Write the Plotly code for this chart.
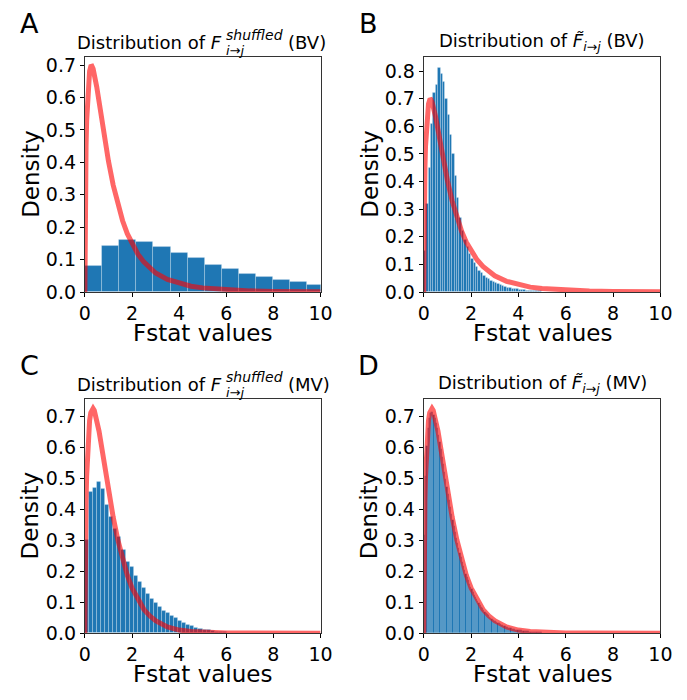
import plotly.graph_objects as go

W, H = 687, 700

# ---------------- data ----------------
# Panel A: histogram of F shuffled (BV)
a_bin_start = 0.0
a_bin_width = 0.726
a_density = [0.080, 0.143, 0.160, 0.155, 0.140, 0.122, 0.104, 0.085, 0.070, 0.057,
             0.047, 0.037, 0.030, 0.023]

# Panel B: histogram of F~ (BV)
b_bin_start = 0.0
b_bin_width = 0.1
b_density = [0.15, 0.32, 0.45, 0.61, 0.72, 0.75, 0.81, 0.79, 0.76, 0.70,
             0.64, 0.57, 0.50, 0.42, 0.34, 0.27, 0.22, 0.19, 0.165, 0.14,
             0.12, 0.105, 0.09, 0.078, 0.068, 0.06, 0.053, 0.047, 0.042, 0.037,
             0.033, 0.029, 0.025, 0.021, 0.018, 0.016, 0.014, 0.012, 0.011, 0.010,
             0.009, 0.008, 0.007, 0.006, 0.005, 0.005, 0.004, 0.004, 0.003, 0.003,
             0.002, 0.002, 0.002, 0.001, 0.001, 0.001]

# Panel C: histogram of F shuffled (MV)
c_bin_start = 0.0
c_bin_width = 0.172
c_density = [0.30, 0.458, 0.47, 0.49, 0.466, 0.415, 0.377, 0.338, 0.31, 0.27,
             0.23, 0.215, 0.185, 0.166, 0.145, 0.128, 0.112, 0.099, 0.086, 0.073,
             0.064, 0.056, 0.05, 0.04, 0.034, 0.027, 0.022, 0.018, 0.014, 0.011,
             0.009, 0.007, 0.005, 0.004, 0.003, 0.002]

# Panel D: histogram of F~ (MV)
d_bin_start = 0.0
d_bin_width = 0.05
d_density = [0.316, 0.507, 0.606, 0.664, 0.697, 0.712, 0.716, 0.714, 0.706, 0.696,
             0.681, 0.663, 0.642, 0.619, 0.595, 0.571, 0.546, 0.522, 0.498, 0.474,
             0.451, 0.429, 0.407, 0.386, 0.365, 0.346, 0.327, 0.309, 0.292, 0.275,
             0.26, 0.245, 0.231, 0.218, 0.205, 0.193, 0.181, 0.171, 0.16, 0.151,
             0.142, 0.133, 0.125, 0.117, 0.11, 0.103, 0.097, 0.091, 0.085, 0.08,
             0.074, 0.07, 0.066, 0.061, 0.058, 0.054, 0.05, 0.047, 0.044, 0.041,
             0.039, 0.036, 0.034, 0.032, 0.029, 0.028, 0.026, 0.024, 0.022, 0.021,
             0.02, 0.018, 0.017, 0.016, 0.015, 0.014, 0.013, 0.012, 0.011, 0.011,
             0.01, 0.009, 0.009, 0.008, 0.007, 0.007, 0.006, 0.006, 0.006, 0.005,
             0.005, 0.005, 0.004, 0.004, 0.004, 0.003, 0.003, 0.003, 0.003, 0.003]

# Theoretical density curves (red)
curve_x = [0, 0.005, 0.01, 0.02, 0.035, 0.05, 0.075, 0.1, 0.15, 0.2, 0.25, 0.3, 0.35,
           0.4, 0.5, 0.6, 0.7, 0.8, 0.9, 1.0, 1.2, 1.4, 1.6, 1.8, 2.0, 2.25, 2.5,
           2.75, 3.0, 3.5, 4.0, 4.5, 5, 6, 7, 8, 9, 10]
curve_bv = [0, 0.156, 0.218, 0.303, 0.389, 0.451, 0.527, 0.580, 0.647, 0.681, 0.695,
            0.696, 0.688, 0.674, 0.634, 0.588, 0.539, 0.491, 0.446, 0.404, 0.330,
            0.269, 0.220, 0.180, 0.148, 0.117, 0.093, 0.074, 0.059, 0.039, 0.027,
            0.018, 0.013, 0.0068, 0.0038, 0.0022, 0.0014, 0.0009]
curve_mv = [0, 0.146, 0.204, 0.285, 0.368, 0.430, 0.507, 0.564, 0.641, 0.687, 0.712,
            0.724, 0.726, 0.720, 0.693, 0.653, 0.607, 0.559, 0.510, 0.463, 0.375,
            0.301, 0.238, 0.187, 0.146, 0.107, 0.077, 0.056, 0.040, 0.020, 0.010,
            0.005, 0.0026, 0.0006, 0.0002, 0.0, 0.0, 0.0]

x_ticks = [0, 2, 4, 6, 8, 10]
y_ticks_a = [0.0, 0.1, 0.2, 0.3, 0.4, 0.5, 0.6, 0.7]
y_ticks_b = [0.0, 0.1, 0.2, 0.3, 0.4, 0.5, 0.6, 0.7, 0.8]

panels = [
    dict(key="A", start=a_bin_start, w=a_bin_width, dens=a_density, curve=curve_bv,
         ymax=0.725, yticks=y_ticks_a, box=(81, 323, 55, 295), variant="shuffled", tag="BV"),
    dict(key="B", start=b_bin_start, w=b_bin_width, dens=b_density, curve=curve_bv,
         ymax=0.851, yticks=y_ticks_b, box=(429, 672, 55, 295), variant="tilde", tag="BV"),
    dict(key="C", start=c_bin_start, w=c_bin_width, dens=c_density, curve=curve_mv,
         ymax=0.757, yticks=y_ticks_a, box=(81, 323, 404, 643), variant="shuffled", tag="MV"),
    dict(key="D", start=d_bin_start, w=d_bin_width, dens=d_density, curve=curve_mv,
         ymax=0.757, yticks=y_ticks_a, box=(429, 672, 404, 643), variant="tilde", tag="MV"),
]

FONT = "DejaVu Sans"
BLUE = "#1f77b4"
RED = "rgba(255,0,0,0.6)"


def px(x):
    return x / W


def py(y):
    return 1 - y / H


fig = go.Figure()
annotations = []

for i, p in enumerate(panels):
    n = "" if i == 0 else str(i + 1)
    xa, ya = "x" + n, "y" + n
    lefts = [p["start"] + p["w"] * k for k in range(len(p["dens"]))]
    if p["w"] < 0.08:
        eline = dict(color="rgba(255,255,255,0.15)", width=0.2)
    else:
        eline = dict(color="rgba(255,255,255,0.4)", width=0.6)
    fig.add_trace(go.Bar(x=lefts, y=p["dens"], width=p["w"], offset=0,
                         marker=dict(color=BLUE, line=eline),
                         xaxis=xa, yaxis=ya, showlegend=False, hoverinfo="skip"))
    fig.add_trace(go.Scatter(x=curve_x, y=p["curve"], mode="lines",
                             line=dict(color=RED, width=5), xaxis=xa, yaxis=ya,
                             showlegend=False, hoverinfo="skip"))
    x0, x1, y0, y1 = p["box"]
    axis_common = dict(showline=True, mirror=True, linecolor="#333", linewidth=1,
                       ticks="outside", ticklen=4, tickwidth=1, tickcolor="#000",
                       showgrid=False, zeroline=False,
                       tickfont=dict(family=FONT, size=19, color="#000"))
    fig.layout["xaxis" + n] = dict(domain=[px(x0), px(x1)], range=[0, 10], anchor=ya,
                                   tickvals=x_ticks, **axis_common)
    fig.layout["yaxis" + n] = dict(domain=[py(y1), py(y0)], range=[0, p["ymax"]], anchor=xa,
                                   tickvals=p["yticks"], tickformat=".1f", **axis_common)

    cx = (x0 + x1) / 2
    # panel letter
    annotations.append(dict(text=p["key"], x=px(x0 - 57), y=py(y0 - 34), xref="paper", yref="paper",
                            showarrow=False, xanchor="center", yanchor="middle",
                            font=dict(family=FONT, size=27, color="#000")))
    # axis labels
    annotations.append(dict(text="Fstat values", x=px(cx), y=py(y1 + 42), xref="paper", yref="paper",
                            showarrow=False, xanchor="center", yanchor="middle",
                            font=dict(family=FONT, size=23, color="#000")))
    annotations.append(dict(text="Density", x=px(x0 - 56), y=py((y0 + y1) / 2), xref="paper",
                            yref="paper", showarrow=False, textangle=-90, xanchor="center",
                            yanchor="middle", font=dict(family=FONT, size=23, color="#000")))
    # title
    ty = y0 - 15
    if p["variant"] == "shuffled":
        fx = x0 + 143
        annotations.append(dict(text="Distribution of <i>F</i>", x=px(fx), y=py(ty), xref="paper",
                                yref="paper", showarrow=False, xanchor="right", yanchor="middle",
                                font=dict(family=FONT, size=18, color="#000")))
        annotations.append(dict(text="<i>shuffled</i>", x=px(fx), y=py(ty - 7), xref="paper",
                                yref="paper", showarrow=False, xanchor="left", yanchor="middle",
                                font=dict(family=FONT, size=14, color="#000")))
        annotations.append(dict(text="<i>i→j</i>", x=px(fx), y=py(ty + 8), xref="paper",
                                yref="paper", showarrow=False, xanchor="left", yanchor="middle",
                                font=dict(family=FONT, size=13, color="#000")))
        annotations.append(dict(text="(" + p["tag"] + ")", x=px(fx + 64), y=py(ty), xref="paper",
                                yref="paper", showarrow=False, xanchor="left", yanchor="middle",
                                font=dict(family=FONT, size=18, color="#000")))
    else:
        annotations.append(dict(text="Distribution of <i>F\u0303</i><sub><i>i→j</i></sub> (" + p["tag"] + ")",
                                x=px(cx), y=py(ty), xref="paper", yref="paper", showarrow=False,
                                xanchor="center", yanchor="middle",
                                font=dict(family=FONT, size=18, color="#000")))

fig.update_layout(width=W, height=H, margin=dict(l=0, r=0, t=0, b=0),
                  paper_bgcolor="white", plot_bgcolor="white", bargap=0,
                  annotations=annotations, font=dict(family=FONT, color="#000"))

fig.write_html("out.html", config={"displayModeBar": False},
               post_script="document.body.style.margin='0';document.body.style.padding='0';")
